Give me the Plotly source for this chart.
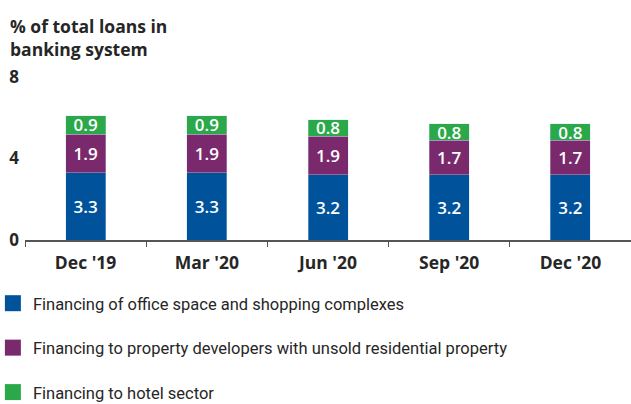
import plotly.graph_objects as go

# Quarter-end reporting periods
periods = ["Dec '19", "Mar '20", "Jun '20", "Sep '20", "Dec '20"]

# Share of total loans in the banking system (%)
office_retail = [3.3, 3.3, 3.2, 3.2, 3.2]
developers_unsold = [1.9, 1.9, 1.9, 1.7, 1.7]
hotel_sector = [0.9, 0.9, 0.8, 0.8, 0.8]

series_names = [
    "Financing of office space and shopping complexes",
    "Financing to property developers with unsold residential property",
    "Financing to hotel sector",
]
series_colors = ["#00539b", "#7a2a6c", "#2ba94a"]
series_values = [office_retail, developers_unsold, hotel_sector]

y_ticks = [0, 4, 8]

FONT = "Open Sans"
LEGEND_FONT = "Roboto"
DARK = "#262626"

fig = go.Figure()

for name, color, vals in zip(series_names, series_colors, series_values):
    fig.add_trace(go.Bar(
        x=periods,
        y=vals,
        name=name,
        marker=dict(color=color, line=dict(color="rgba(200,220,240,0.6)", width=0.6)),
        text=vals,
        texttemplate="%{y:.1f}",
        textposition="inside",
        insidetextanchor="middle",
        textangle=0,
        textfont=dict(family=FONT, size=17, color="white", weight=600),
        showlegend=False,
        hoverinfo="skip",
    ))

# Square legend keys
for i, (name, color) in enumerate(zip(series_names, series_colors)):
    fig.add_trace(go.Scatter(
        x=[None], y=[None],
        mode="markers",
        name=name,
        legendgroup=f"g{i}",
        marker=dict(symbol="square", size=16, color=color),
        showlegend=True,
    ))

# Two-line axis caption in the top-left corner
fig.add_annotation(
    text="<b>% of total loans in<br>banking system</b>",
    xref="paper", x=-0.028, xanchor="left",
    yref="paper", y=1.40, yanchor="top",
    align="left", showarrow=False,
    font=dict(family=FONT, size=17.5, color=DARK),
)

fig.update_layout(
    width=631,
    height=404,
    margin=dict(l=25, r=0, t=77, b=164, autoexpand=False),
    barmode="stack",
    bargap=0.67,
    plot_bgcolor="white",
    paper_bgcolor="white",
    font=dict(family=FONT, color=DARK),
    uniformtext=dict(minsize=17, mode="show"),
    legend=dict(
        x=-0.053, xanchor="left",
        y=-0.282, yanchor="top",
        traceorder="grouped",
        tracegroupgap=20,
        itemsizing="trace",
        font=dict(family=LEGEND_FONT, size=16.5, color=DARK),
        bgcolor="rgba(0,0,0,0)",
    ),
    xaxis=dict(
        showline=True,
        linecolor="#555555",
        linewidth=1.5,
        ticks="outside",
        tickson="boundaries",
        ticklen=5,
        tickcolor="#555555",
        ticklabelstandoff=6,
        tickfont=dict(family=FONT, size=17.5, color=DARK, weight="bold"),
        showgrid=False,
    ),
    yaxis=dict(
        range=[0, 8],
        tickvals=y_ticks,
        showgrid=False,
        zeroline=False,
        showline=False,
        ticklabelstandoff=5,
        tickfont=dict(family=FONT, size=17, color=DARK, weight="bold"),
    ),
)

fig.write_html("out.html")
